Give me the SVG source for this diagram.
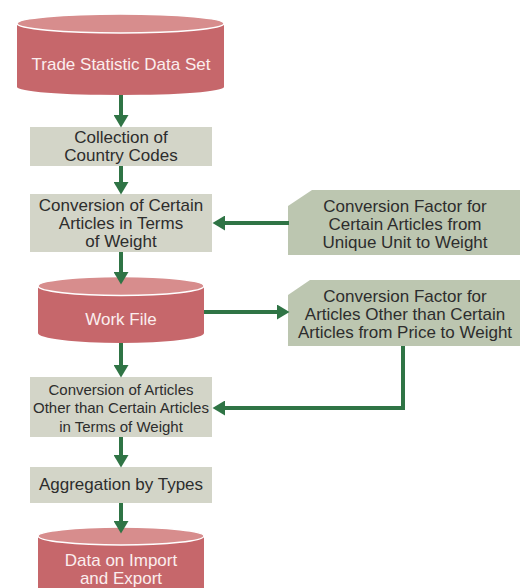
<svg xmlns="http://www.w3.org/2000/svg" width="525" height="588" viewBox="0 0 525 588">
<style>
.cyl-body{fill:#c6676b}
.cyl-top{fill:#d78d8d;stroke:#ffffff;stroke-width:1.5}
.proc{fill:#d3d5c8}
.ext{fill:#bcc6b0}
.t{font-family:"Liberation Sans",Arial,sans-serif;font-size:17px;text-anchor:middle;fill:#2d2d2d}
.ts{font-size:15px}
.tw{fill:#fbeeee}
.c{fill:none;stroke:#2f7445;stroke-width:4;marker-end:url(#ah)}
</style>
<defs>
<marker id="ah" markerUnits="userSpaceOnUse" markerWidth="13" markerHeight="15" refX="4" refY="7.5" orient="auto">
<path d="M0,0 L12.5,7.5 L0,15 Z" fill="#2f7445"/>
</marker>
</defs>
<rect width="525" height="588" fill="#ffffff"/>
<g id="trade-data-set">
<path class="cyl-body" d="M17,23.5 V87 A103.5,8 0 0 0 224,87 V23.5 Z"/>
<ellipse class="cyl-top" cx="120.5" cy="23.5" rx="103.5" ry="9.5"/>
<text class="t tw" x="121" y="70">Trade Statistic Data Set</text>
</g>
<g id="collection">
<rect class="proc" x="30" y="127" width="182" height="39"/>
<text class="t" x="121" y="143">Collection of</text>
<text class="t" x="121" y="161">Country Codes</text>
</g>
<g id="conversion-certain">
<rect class="proc" x="30" y="194" width="182" height="58"/>
<text class="t" x="121" y="211">Conversion of Certain</text>
<text class="t" x="121" y="229">Articles in Terms</text>
<text class="t" x="121" y="247">of Weight</text>
</g>
<g id="factor-unit">
<path class="ext" d="M312,190 H520 V255 H288 V206 Z"/>
<text class="t" x="405" y="212">Conversion Factor for</text>
<text class="t" x="405" y="230">Certain Articles from</text>
<text class="t" x="405" y="248">Unique Unit to Weight</text>
</g>
<g id="work-file">
<path class="cyl-body" d="M38,286 V333 A83,10 0 0 0 204,333 V286 Z"/>
<ellipse class="cyl-top" cx="121" cy="286" rx="83" ry="9.5"/>
<text class="t tw" x="121" y="325">Work File</text>
</g>
<g id="factor-price">
<path class="ext" d="M310,280 H520 V346 H288 V295 Z"/>
<text class="t" x="405" y="302">Conversion Factor for</text>
<text class="t" x="405" y="320">Articles Other than Certain</text>
<text class="t" x="405" y="338">Articles from Price to Weight</text>
</g>
<g id="conversion-other">
<rect class="proc" x="30" y="377" width="182" height="60"/>
<text class="t ts" x="121" y="395">Conversion of Articles</text>
<text class="t ts" x="121" y="413">Other than Certain Articles</text>
<text class="t ts" x="121" y="432">in Terms of Weight</text>
</g>
<g id="aggregation">
<rect class="proc" x="30" y="467" width="182" height="36"/>
<text class="t" x="121" y="490">Aggregation by Types</text>
</g>
<g id="import-export">
<path class="cyl-body" d="M38,536 V600 H204 V536 Z"/>
<ellipse class="cyl-top" cx="121" cy="536" rx="83" ry="9"/>
<text class="t tw" x="121" y="566">Data on Import</text>
<text class="t tw" x="121" y="584">and Export</text>
</g>
<g id="connectors">
<path class="c" d="M121,95 V119"/>
<path class="c" d="M121,166 V186"/>
<path class="c" d="M289,223 H221"/>
<path class="c" d="M121,252 V276"/>
<path class="c" d="M204,312 H281"/>
<path class="c" d="M121,343 V369"/>
<path class="c" d="M403,346 V408 H221"/>
<path class="c" d="M121,437 V459"/>
<path class="c" d="M121,503 V525"/>
</g>
</svg>
